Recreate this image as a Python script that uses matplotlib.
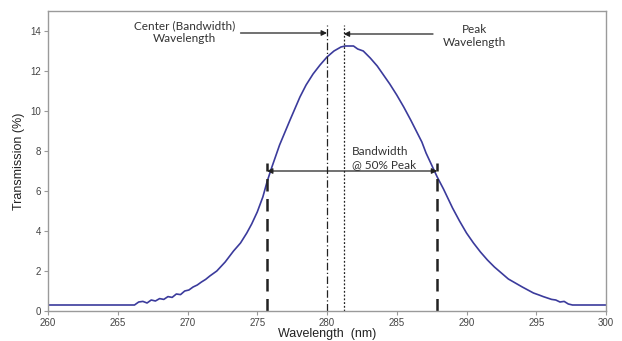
import matplotlib
matplotlib.use("Agg")
import matplotlib.pyplot as plt

wavelength = [260.0, 266.0, 266.2, 266.5, 266.8, 267.1, 267.4, 267.7, 268.0, 268.3, 268.6, 268.9,
              269.2, 269.5, 269.8, 270.1, 270.4, 270.7, 271.0, 271.3, 271.6, 272.1, 272.7, 273.3,
              273.8, 274.25, 274.6, 275.0, 275.4, 275.7, 276.0, 276.6, 277.35, 278.06, 278.5, 279.0,
              279.5, 280.0, 280.5, 281.0, 281.3, 281.9, 282.2, 282.6, 283.1, 283.6, 284.0, 284.5,
              285.0, 285.5, 286.0, 286.4, 286.8, 287.1, 287.5, 287.9, 288.35, 289.0, 289.5, 290.0,
              290.5, 291.0, 291.5, 292.0, 292.5, 293.0, 293.5, 294.0, 294.4, 294.8, 295.2, 295.5,
              295.8, 296.1, 296.4, 296.7, 297.0, 297.3, 297.6, 300.0]
transmission = [0.3, 0.3, 0.3, 0.45, 0.48, 0.4, 0.55, 0.5, 0.62, 0.58, 0.72, 0.68,
                0.85, 0.82, 1.0, 1.05, 1.2, 1.3, 1.45, 1.58, 1.75, 2.0, 2.45, 3.0,
                3.4, 3.9, 4.35, 4.95, 5.7, 6.45, 7.1, 8.3, 9.55, 10.7, 11.3, 11.85,
                12.3, 12.7, 13.0, 13.2, 13.25, 13.25, 13.1, 13.0, 12.65, 12.25, 11.85, 11.35,
                10.8, 10.2, 9.55, 9.0, 8.45, 7.9, 7.3, 6.7, 6.1, 5.15, 4.5, 3.9,
                3.4, 2.95, 2.55, 2.2, 1.9, 1.6, 1.4, 1.2, 1.05, 0.9, 0.8, 0.72,
                0.65, 0.58, 0.55, 0.45, 0.48, 0.35, 0.3, 0.3]

x_ticks = [260, 265, 270, 275, 280, 285, 290, 295, 300]
y_ticks = [0, 2, 4, 6, 8, 10, 12, 14]

center_wl = 280.0
peak_wl = 281.2
bw_left = 275.7
bw_right = 287.9
half_peak = 7.0

fig = plt.figure(figsize=(6.22, 3.41), dpi=100)
ax = fig.add_axes([48/622, 1 - 311/341, (606-48)/622, (311-11)/341])

ax.plot(wavelength, transmission, color="#3b3b9c", lw=1.2)

ax.set_xlim(260, 300)
ax.set_ylim(0, 15)
ax.set_xticks(x_ticks)
ax.set_yticks(y_ticks)

for s in ax.spines.values():
    s.set_color("#9a9a9a")
    s.set_linewidth(1.0)
ax.tick_params(direction="out", length=3, color="#9a9a9a", labelsize=7, labelcolor="#444444",
               pad=2)
for lab in ax.get_xticklabels() + ax.get_yticklabels():
    lab.set_family("Liberation Sans")

ax.set_xlabel("Wavelength  (nm)", family="Liberation Sans", fontsize=9, color="#222222", labelpad=0)
ax.set_ylabel("Transmission (%)", family="Liberation Sans", fontsize=9, color="#222222", labelpad=4)

# vertical reference lines
ax.plot([center_wl, center_wl], [0, 14.3], color="#222222", lw=0.9, ls=(0, (6, 2, 1, 2)))
ax.plot([peak_wl, peak_wl], [0, 14.3], color="#222222", lw=0.9, ls=(0, (1.5, 1.5)))
ax.plot([bw_left, bw_left], [0, 7.4], color="#222222", lw=1.8, ls=(0, (5, 3)))
ax.plot([bw_right, bw_right], [0, 7.4], color="#222222", lw=1.8, ls=(0, (5, 3)))

# bandwidth double arrow
ax.annotate("", xy=(bw_left, half_peak), xytext=(bw_right, half_peak),
            arrowprops=dict(arrowstyle="<|-|>", color="#222222", lw=0.9,
                            shrinkA=0, shrinkB=0, mutation_scale=8))

tfont = dict(family="Lato", fontsize=8.5, color="#333333")
ax.annotate("", xy=(center_wl, 13.9), xytext=(273.8, 13.9),
            arrowprops=dict(arrowstyle="-|>", color="#222222", lw=0.9,
                            shrinkA=0, shrinkB=0, mutation_scale=8))
ax.annotate("", xy=(peak_wl, 13.85), xytext=(287.6, 13.85),
            arrowprops=dict(arrowstyle="-|>", color="#222222", lw=0.9,
                            shrinkA=0, shrinkB=0, mutation_scale=8))

ax.text(269.8, 13.95, "Center (Bandwidth)\nWavelength", ha="center", va="center",
        linespacing=1.2, **tfont)
ax.text(290.6, 13.75, "Peak\nWavelength", ha="center", va="center", linespacing=1.2, **tfont)
ax.text(281.8, 7.65, "Bandwidth\n@ 50% Peak", ha="left", va="center", linespacing=1.2, **tfont)

fig.savefig("out.png", dpi=100)
